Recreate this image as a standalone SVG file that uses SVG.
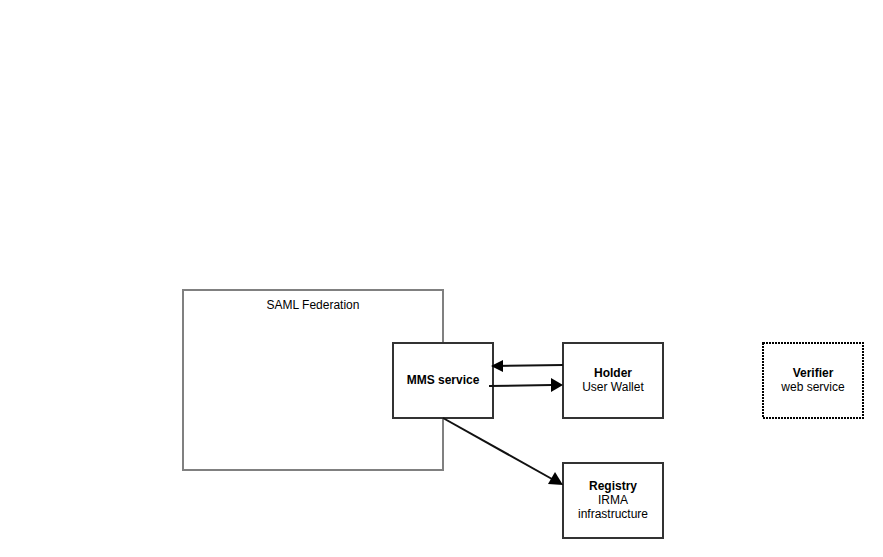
<svg xmlns="http://www.w3.org/2000/svg" width="883" height="557" viewBox="0 0 883 557">
<style>
.box{fill:#fff;stroke:#333;stroke-width:2}
.t{font-family:"Liberation Sans",Arial,sans-serif;font-size:12px;fill:#000;text-anchor:middle}
.b{font-weight:bold}
.c{stroke:#111;stroke-width:2;fill:none}
</style>
<defs>
<marker id="ah" viewBox="0 0 10 10" refX="9" refY="5" markerWidth="7" markerHeight="7" markerUnits="userSpaceOnUse" orient="auto">
<path d="M0,0 L10,5 L0,10 z" fill="#000"/>
</marker>
</defs>
<rect width="883" height="557" fill="#fff"/>
<g id="saml">
<rect x="183" y="290" width="260" height="180" fill="#fff" stroke="#808080" stroke-width="2"/>
<text class="t" x="313" y="309">SAML Federation</text>
</g>
<g id="mms">
<rect class="box" x="393" y="343" width="100" height="75"/>
<text class="t b" x="443" y="384">MMS service</text>
</g>
<g id="holder">
<rect class="box" x="563" y="343" width="100" height="75"/>
<text class="t b" x="613" y="377">Holder</text>
<text class="t" x="613" y="391">User Wallet</text>
</g>
<g id="registry">
<rect class="box" x="563" y="463" width="100" height="75"/>
<text class="t b" x="613" y="490">Registry</text>
<text class="t" x="613" y="504">IRMA</text>
<text class="t" x="613" y="518">infrastructure</text>
</g>
<g id="verifier">
<rect x="763" y="343" width="100" height="75" fill="#fff" stroke="#000" stroke-width="2" stroke-dasharray="2 1"/>
<text class="t b" x="813" y="377">Verifier</text>
<text class="t" x="813" y="391">web service</text>
</g>
<g id="connectors">
<path class="c" d="M563,365 L494,366" style="marker-end:none"/>
<path d="M503,360 L491,366 L503,372 z" fill="#000"/>
<path class="c" d="M489,386 L552,385"/>
<path d="M551,378 L563,385 L551,392 z" fill="#000"/>
<path class="c" d="M443,418 L552,479"/>
<path d="M548,484 L563,485 L555,472 z" fill="#000"/>
</g>
</svg>
